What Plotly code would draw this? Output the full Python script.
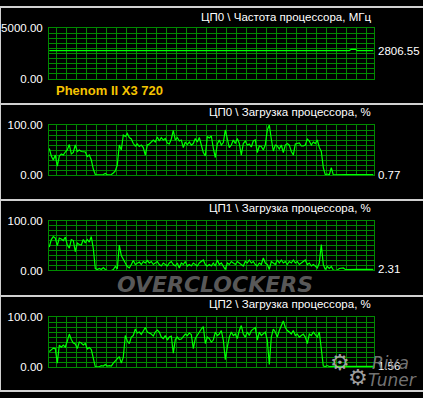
import plotly.graph_objects as go

W, H = 423, 398

# ---------------- data ----------------
cpu_freq = [2806.55] * 151 + [2930.0] * 3 + [2806.55] * 9

cpu0_load = [53, 38, 30, 40, 18, 38, 42, 40, 46, 50, 61, 42, 45, 60, 47, 50, 47, 47, 46, 37,
             40, 30, 12, 1, 0.5, 0.5, 0.5, 1, 3, 0.5, 0.5, 1, 4, 8, 20, 60, 50, 80, 77, 83,
             75, 72, 63, 58, 62, 57, 60, 55, 40, 60, 62, 67, 70, 66, 76, 68, 75, 70, 73, 64,
             62, 72, 89, 70, 75, 68, 70, 55, 66, 61, 66, 60, 63, 73, 66, 75, 60, 45, 38, 77,
             74, 78,
             54, 35, 62, 70, 60, 65, 90, 73, 55, 60, 70, 63, 73, 63, 40, 63, 68, 60, 62, 56,
             68, 70, 45, 58, 57, 50, 60, 90, 100, 72, 48, 60, 58, 52, 60, 45, 60, 63, 60, 47,
             40, 62, 63, 64, 58, 58, 60, 72, 68, 60, 66, 63, 70, 55, 47, 15, 0.5, 2, 0.5, 15,
             0.5, 0.77, 0.77, 0.77, 0.77, 0.77, 0.77, 0.77, 0.77, 0.77, 0.77, 0.77, 0.77, 0.77,
             0.77, 0.77, 0.77, 0.77, 0.77, 0.77, 0.77]

cpu1_load = [47, 62, 68, 65, 50, 65, 63, 60, 67, 51, 45, 62, 60, 38, 55, 52, 51, 62, 55, 62,
             57, 68, 44, 4, 2, 4, 2, 6, 2, 0, 0, 0, 2, 8, 3, 51, 30, 21, 15, 8,
             5, 12, 20, 12, 15, 17, 12, 18, 15, 20, 15, 18, 12, 15, 18, 12, 9, 15, 12, 9,
             15, 18, 12, 9, 15, 5, 15, 12, 18, 9, 12, 9, 15, 12, 9, 15, 18, 21, 12, 9,
             12, 9,
             15, 9, 21, 12, 15, 9, 2, 15, 12, 18, 15, 12, 18, 15, 12, 9, 18, 15, 21, 15,
             18, 12, 9, 15, 12, 25, 15, 12, 2, 18, 15, 12, 21, 15, 21, 15, 18, 12, 18, 15,
             21, 15, 18, 12, 15, 18, 21, 12, 15, 9, 12, 9, 5, 15, 52, 12, 2, 8, 4, 8,
             1, 0, 1, 4, 5, 5, 2, 2.31, 2.31, 2.31, 2.31, 2.31, 2.31, 2.31, 2.31, 2.31, 2.31,
             2.31, 2.31, 2.31, 2.31]

cpu2_load = [31, 34, 38, 37, 8, 44, 40, 44, 40, 52, 66, 55, 48, 46, 37, 50, 48, 44, 47, 36,
             39, 35, 15, 0.5, 0.5, 0.5, 3, 2, 5, 2, 3, 2, 8, 12, 15, 21, 8, 20, 63, 52,
             47, 60, 63, 76, 68, 70, 65, 72, 79, 70, 68, 66, 62, 70, 74, 70, 60, 57, 63, 54,
             60, 62, 28, 55, 60, 55, 56, 62, 66, 63, 68, 65, 37, 57, 64, 68, 76, 81, 47, 60,
             57, 50,
             54, 70, 63, 66, 73, 54, 15, 40, 60, 70, 63, 66, 57, 73, 83, 66, 60, 70, 63, 73,
             76, 79, 54, 70, 63, 66, 70, 54, 5, 60, 76, 70, 60, 73, 83, 92, 79, 73, 70, 66,
             73, 63, 66, 60, 63, 66, 60, 47, 66, 63, 70, 66, 60, 70, 40, 2, 1, 3, 1, 2,
             1.56, 1.56, 1.56, 1.56, 1.56, 1.56, 1.56, 1.56, 1.56, 1.56, 1.56, 1.56, 1.56,
             1.56, 1.56, 1.56, 1.56, 1.56, 1.56, 1.56, 1.56]

titles = ["ЦП0 \\ Частота процессора, МГц", "ЦП0 \\ Загрузка процессора, %",
          "ЦП1 \\ Загрузка процессора, %", "ЦП2 \\ Загрузка процессора, %"]
y_max = [5000, 100, 100, 100]
y_ticktext = [["0.00", "5000.00"], ["0.00", "100.00"], ["0.00", "100.00"], ["0.00", "100.00"]]
current_values = ["2806.55", "0.77", "2.31", "1.56"]
cpu_name = "Phenom II X3 720"

series = [cpu_freq, cpu0_load, cpu1_load, cpu2_load]

# ---------------- layout helpers ----------------
FONT = "Liberation Sans"
GRID = "#008a00"
TRACE = "#00ff00"
plot_px = [(23, 75.3), (122.7, 174.3), (221.3, 272.7), (320.7, 372.3)]
title_y = [11, 109, 208.5, 307]
XL, XR = 49, 374

def px(x):
    return x / W

def py(y):
    return 1 - y / H

fig = go.Figure()
annotations = []
shapes = []

vgrid = [3.7 + 5 * k for k in range(32)]

for i, (vals, ymax) in enumerate(zip(series, y_max)):
    n = i + 1
    xa = "x" if n == 1 else f"x{n}"
    ya = "y" if n == 1 else f"y{n}"
    fig.add_trace(go.Scatter(
        x=list(range(len(vals))), y=vals, mode="lines",
        line=dict(color=TRACE, width=1.2), xaxis=xa, yaxis=ya,
        hoverinfo="skip", showlegend=False))
    top, bot = plot_px[i]
    xkey = "xaxis" if n == 1 else f"xaxis{n}"
    ykey = "yaxis" if n == 1 else f"yaxis{n}"
    fig.update_layout(**{
        xkey: dict(domain=[px(XL), px(XR)], range=[-0.15, 162.35], anchor=ya,
                   tickmode="array", tickvals=vgrid, showticklabels=False, ticks="",
                   showgrid=True, gridcolor=GRID, gridwidth=1, zeroline=False,
                   showline=True, mirror=True, linecolor=GRID, linewidth=1,
                   fixedrange=True),
        ykey: dict(domain=[py(bot), py(top)], range=[0, ymax], anchor=xa,
                   tickmode="array", tickvals=[0, ymax], ticktext=y_ticktext[i],
                   tickfont=dict(family=FONT, size=11.5, color="#ffffff"),
                   ticks="", ticklabelstandoff=3,
                   showgrid=True, gridcolor=GRID, gridwidth=1, zeroline=False,
                   minor=dict(tickmode="linear", tick0=0, dtick=ymax / 10,
                              showgrid=True, gridcolor=GRID, gridwidth=1, ticks=""),
                   showline=True, mirror=True, linecolor=GRID, linewidth=1,
                   fixedrange=True),
    })
    annotations.append(dict(
        text=titles[i], xref="paper", yref="paper", x=px(373), y=py(title_y[i]),
        xanchor="right", yanchor="middle", showarrow=False,
        font=dict(family=FONT, size=11.5, color="#ffffff")))
    last = vals[-1]
    annotations.append(dict(
        text=current_values[i], xref="paper", yref=ya, x=px(376), y=last,
        xanchor="left", yanchor="middle", showarrow=False,
        font=dict(family=FONT, size=11.5, color="#ffffff")))

annotations.append(dict(
    text=f"<b>{cpu_name}</b>", xref="paper", yref="paper", x=px(54), y=py(87),
    xanchor="left", yanchor="middle", showarrow=False,
    font=dict(family=FONT, size=13, color="#f5c400")))

# watermarks
annotations.append(dict(
    text="<b><i>OVERCLOCKERS</i></b>", xref="paper", yref="paper", x=px(215), y=py(287),
    xanchor="center", yanchor="middle", showarrow=False,
    font=dict(family="DejaVu Sans", size=22, color="rgba(105,105,105,0.85)")))
annotations.append(dict(
    text="⚙", xref="paper", yref="paper", x=px(340), y=py(368),
    xanchor="center", yanchor="middle", showarrow=False,
    font=dict(family="DejaVu Sans", size=22, color="rgba(180,180,180,0.9)")))
annotations.append(dict(
    text="⚙", xref="paper", yref="paper", x=px(358), y=py(383),
    xanchor="center", yanchor="middle", showarrow=False,
    font=dict(family="DejaVu Sans", size=22, color="rgba(180,180,180,0.9)")))
annotations.append(dict(
    text="<i>Riva</i>", xref="paper", yref="paper", x=px(390), y=py(368),
    xanchor="center", yanchor="middle", showarrow=False,
    font=dict(family="DejaVu Sans", size=17, color="rgba(130,130,130,0.9)")))
annotations.append(dict(
    text="<i>Tuner</i>", xref="paper", yref="paper", x=px(392), y=py(386),
    xanchor="center", yanchor="middle", showarrow=False,
    font=dict(family="DejaVu Sans", size=17, color="rgba(130,130,130,0.9)")))

# frame separators
SEP = "#d0d0d0"
for (y0, y1) in [(0, 2), (100, 102), (199, 201), (298, 300), (396, 398)]:
    shapes.append(dict(type="rect", xref="paper", yref="paper", x0=0, x1=1,
                       y0=py(y1), y1=py(y0), line=dict(width=0), fillcolor=SEP, layer="above"))
shapes.append(dict(type="rect", xref="paper", yref="paper", x0=0, x1=px(1),
                   y0=0, y1=1, line=dict(width=0), fillcolor=SEP, layer="above"))

fig.update_layout(
    width=W, height=H, margin=dict(l=0, r=0, t=0, b=0),
    paper_bgcolor="#000000", plot_bgcolor="#000000",
    annotations=annotations, shapes=shapes, showlegend=False,
)

fig.write_html("out.html", config={"displayModeBar": False})
